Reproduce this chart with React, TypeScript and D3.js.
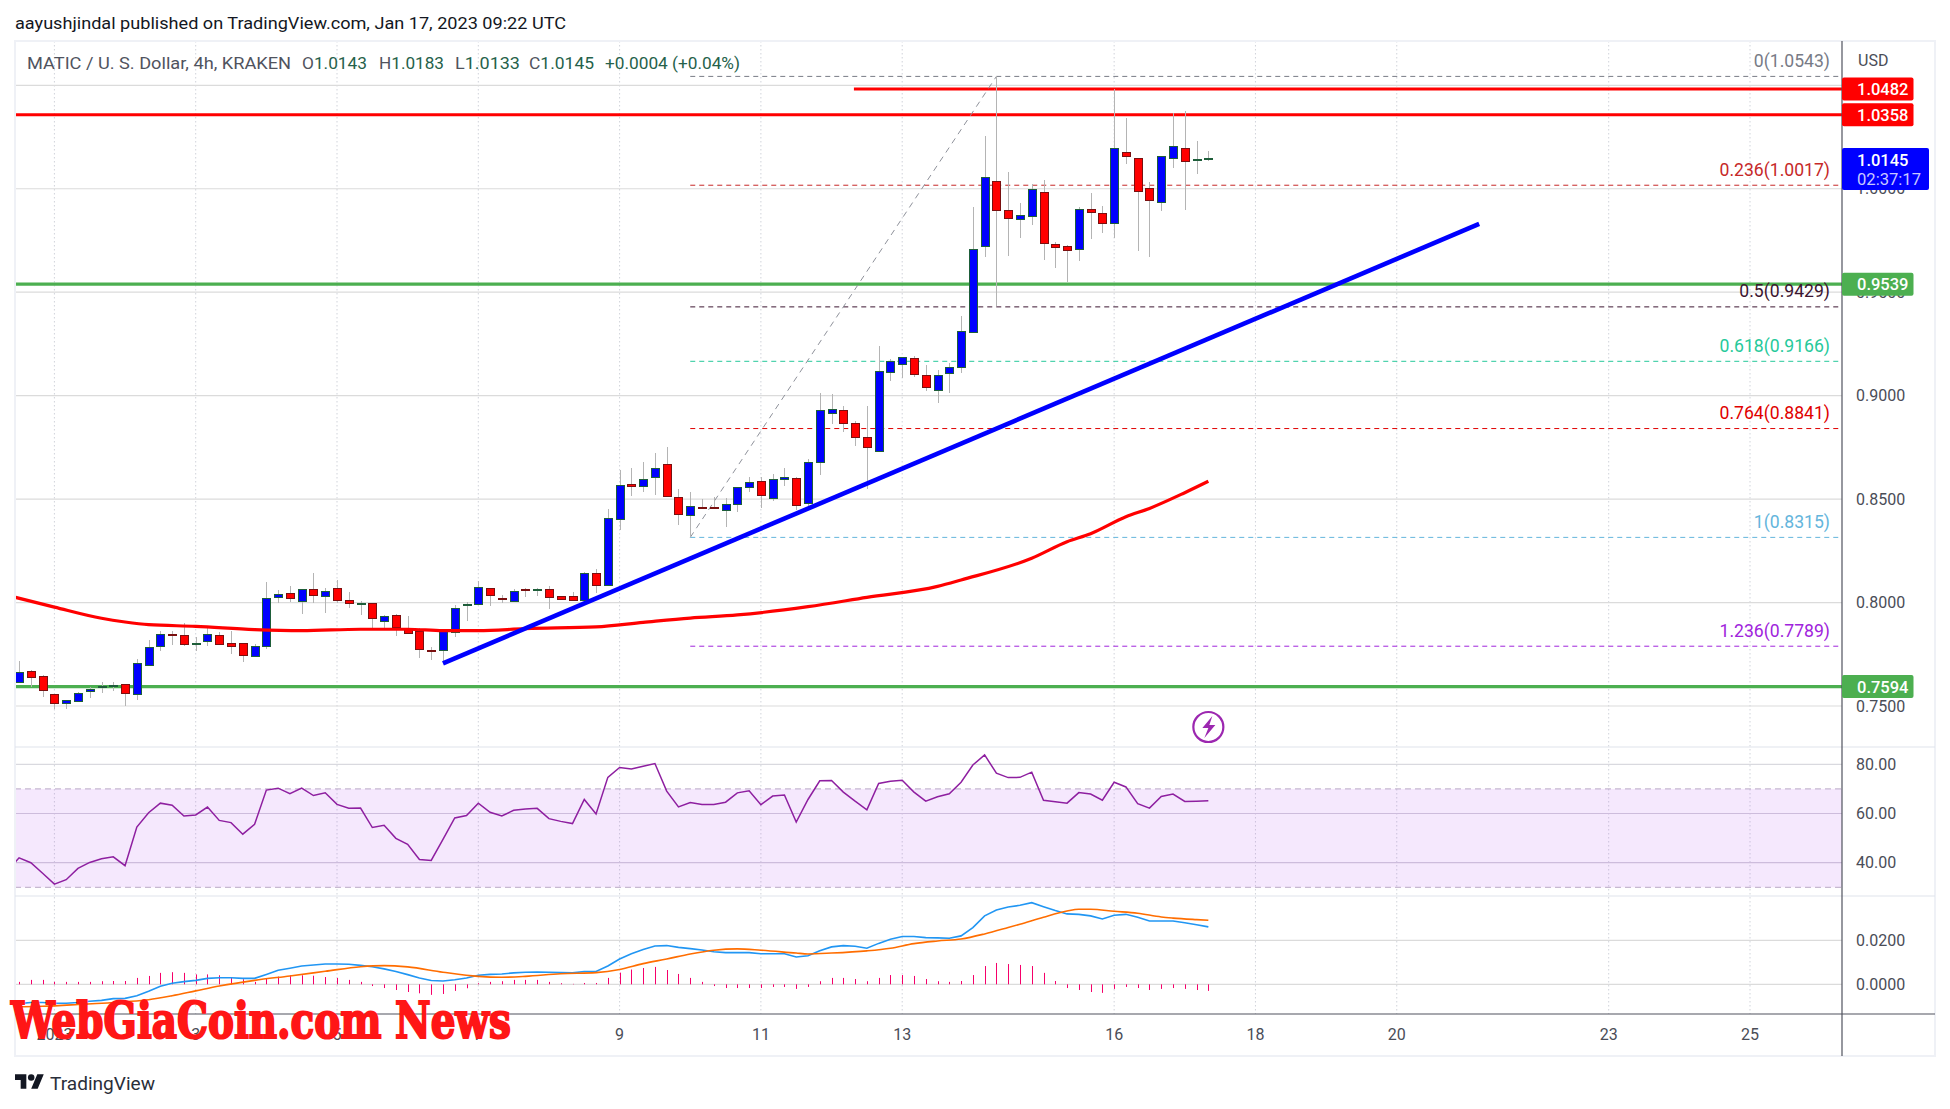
import React from "react";
import * as d3 from "d3";

const barStart = -3;
const opens = [.7613,.7668,.7643,.7556,.7511,.7521,.7569,.7589,.7593,.7605,.7556,.7695,.7788,.7846,.7842,.7801,.7811,.7842,.7803,.7803,.7738,.7788,.8024,.8045,.8006,.8064,.8028,.8069,.8011,.7995,.7996,.7909,.7938,.7875,.7861,.7769,.7769,.7854,.7985,.7991,.8069,.8020,.8006,.8064,.8062,.8064,.8027,.8027,.8011,.8141,.8083,.8401,.8571,.8560,.8604,.8668,.8508,.8420,.8460,.8460,.8444,.8473,.8557,.8586,.8502,.8594,.8600,.8478,.8678,.8913,.8929,.8866,.8798,.8731,.9111,.9150,.9180,.9098,.9024,.9108,.9135,.9306,.9720,1.0036,.9896,.9850,.9865,.9983,.9731,.9722,.9705,.9900,.9881,.9831,1.0176,1.0147,1.0002,.9934,1.0145,1.0195,1.0136,1.0143];
const highs = [.7717,.7674,.7650,.7556,.7529,.7569,.7593,.7614,.7614,.7606,.7726,.7817,.7861,.7861,.7900,.7832,.7875,.7856,.7862,.7803,.7798,.8099,.8061,.8080,.8064,.8143,.8069,.8107,.8051,.8007,.7996,.7940,.7943,.7935,.7875,.7784,.7867,.7987,.8001,.8104,.8069,.8035,.8064,.8070,.8069,.8080,.8028,.8051,.8146,.8161,.8452,.8641,.8650,.8679,.8721,.8750,.8549,.8534,.8500,.8512,.8504,.8560,.8607,.8608,.8621,.8649,.8605,.8695,.9011,.9008,.8950,.8877,.8950,.9240,.9175,.9185,.9192,.9148,.9124,.9156,.9385,.9912,1.0255,1.0543,1.0081,.9931,1.0023,1.0041,.9743,.9728,.9912,.9979,.9917,1.0482,1.0342,1.0147,1.0032,1.0157,1.0368,1.0376,1.0231,1.0183];
const lows = [.7610,.7593,.7545,.7487,.7484,.7521,.7540,.7564,.7571,.7502,.7531,.7695,.7767,.7796,.7792,.7767,.7792,.7793,.7753,.7714,.7738,.7774,.7996,.8004,.7946,.7996,.7951,.7996,.7975,.7941,.7875,.7875,.7840,.7850,.7734,.7724,.7711,.7835,.7912,.7991,.7985,.7996,.8006,.8027,.8033,.7970,.8014,.8009,.8001,.8048,.8083,.8349,.8515,.8536,.8520,.8512,.8375,.8315,.8454,.8450,.8367,.8439,.8536,.8457,.8492,.8565,.8447,.8450,.8618,.8865,.8826,.8757,.8547,.8731,.9071,.9085,.9092,.9024,.8963,.9014,.9111,.9306,.9672,.9433,.9675,.9762,.9825,.9656,.9618,.9549,.9651,.9759,.9788,.9762,1.0120,.9701,.9670,.9894,1.0102,.9897,1.0073,1.0133];
const closes = [.7663,.7637,.7576,.7511,.7527,.7561,.7582,.7595,.7600,.7561,.7706,.7784,.7846,.7840,.7798,.7803,.7846,.7798,.7787,.7743,.7788,.8020,.8040,.8020,.8064,.8033,.8054,.8011,.7996,.7996,.7924,.7933,.7879,.7850,.7774,.7767,.7861,.7972,.7991,.8074,.8033,.8019,.8054,.8057,.8064,.8024,.8014,.8009,.8141,.8082,.8407,.8566,.8560,.8595,.8649,.8512,.8425,.8465,.8454,.8458,.8475,.8557,.8581,.8517,.8595,.8605,.8468,.8678,.8929,.8934,.8865,.8798,.8749,.9117,.9166,.9185,.9101,.9039,.9098,.9137,.9311,.9707,1.0055,.9894,.9857,.9871,.9997,.9734,.9715,.9701,.9900,.9884,.9831,1.0194,1.0155,.9986,.9942,1.0157,1.0205,1.0131,1.0142,1.0145];

const maIndex = [-4,0,4,6,8,12,17,21,26,30,33,36,40,46,50,54,58,64,69,75,77,83,86,88,91,93,96,98];
const maValues = [.8035,.7978,.7924,.7906,.7893,.7885,.7869,.7864,.7871,.7871,.7864,.7864,.7874,.7882,.7904,.7925,.7940,.7980,.8025,.8078,.8109,.8214,.8294,.8333,.8415,.8455,.8531,.8586];

const rsiStart = -4;
const rsiValues = [36.6,42.0,40.0,35.7,31.3,33.1,37.7,40.1,41.6,42.4,38.8,54.5,60.3,64.2,63.4,59.0,59.4,62.6,57.2,56.3,51.6,55.6,69.5,70.3,68.1,70.3,67.3,68.4,63.7,62.1,62.2,54.3,55.2,49.9,47.5,41.3,40.9,49.5,58.2,59.2,64.2,60.5,59.0,61.3,61.8,62.1,57.9,56.8,55.9,65.7,59.8,74.7,78.7,78.1,79.2,80.3,69.1,62.7,64.5,63.7,63.7,64.6,68.4,69.2,63.6,67.1,67.5,56.5,65.7,73.3,73.4,68.7,65.0,61.5,72.2,73.1,73.5,68.7,65.0,66.8,68.0,72.7,79.7,83.8,76.4,74.6,74.7,76.8,65.4,64.8,64.2,68.5,67.9,65.4,72.7,70.8,64.0,62.2,66.9,67.9,64.9,65.0,65.2];

const macdStart = -4;
const macdValues = [-.0092,-.0088,-.0083,-.0083,-.0086,-.0086,-.0083,-.0077,-.0073,-.0065,-.0064,-.0052,-.0032,-.0009,.0005,.0012,.0018,.0027,.0030,.0030,.0027,.0027,.0045,.0064,.0073,.0083,.0088,.0092,.0092,.0091,.0086,.0080,.0070,.0058,.0044,.0029,.0017,.0015,.0021,.0029,.0041,.0045,.0047,.0052,.0055,.0056,.0055,.0053,.0052,.0058,.0058,.0083,.0115,.0139,.0158,.0174,.0176,.0168,.0162,.0156,.0148,.0144,.0144,.0144,.0139,.0139,.0139,.0124,.0130,.0152,.0170,.0176,.0173,.0164,.0186,.0205,.0217,.0217,.0212,.0211,.0209,.0220,.0258,.0311,.0338,.0351,.0359,.0371,.0353,.0335,.0320,.0318,.0311,.0297,.0314,.0318,.0305,.0288,.0288,.0288,.0280,.0271,.0261];
const signalIndex = [-4,-1,2,6,8,10,12,14,17,20,23,26,28,30,33,36,38,40,43,46,48,50,52,54,56,58,60,63,64,66,69,71,73,75,77,79,81,82,84,86,87,88,90,92,94,95,97,98];
const signalValues = [-.0103,-.0100,-.0092,-.0079,-.0070,-.0052,-.0030,-.0008,.0018,.0038,.0059,.0080,.0085,.0079,.0055,.0036,.0032,.0036,.0048,.0053,.0067,.0094,.0115,.0138,.0155,.0161,.0155,.0142,.0138,.0142,.0152,.0164,.0185,.0197,.0206,.0229,.0258,.0273,.0305,.0333,.0341,.0341,.0332,.0323,.0306,.0301,.0294,.0291];
const histValues = [.0011,.0020,.0020,.0011,.0011,.0011,.0011,.0014,.0015,.0015,.0029,.0038,.0052,.0055,.0052,.0045,.0045,.0041,.0032,.0023,.0011,.0026,.0035,.0041,.0041,.0039,.0033,.0029,.0020,.0011,-.0008,-.0017,-.0026,-.0035,-.0041,-.0048,-.0044,-.0030,-.0018,.0005,.0011,.0014,.0020,.0020,.0020,.0011,.0005,.0002,.0006,.0006,.0029,.0053,.0067,.0074,.0079,.0065,.0047,.0029,.0011,-.0008,-.0017,-.0017,-.0017,-.0017,-.0012,-.0012,-.0021,-.0012,.0014,.0029,.0029,.0024,.0014,.0029,.0042,.0042,.0038,.0024,.0014,.0011,.0015,.0042,.0083,.0097,.0092,.0088,.0083,.0052,.0015,-.0017,-.0026,-.0035,-.0039,-.0021,-.0012,-.0017,-.0026,-.0021,-.0017,-.0021,-.0026,-.0030];

const priceTicks = [1.05, 1.0, 0.95, 0.9, 0.85, 0.8, 0.75];
const rsiTicks = [80, 60, 40];
const macdTicks = [0.02, 0];
const timeIndex = [0, 12, 24, 36, 48, 60, 72, 90, 102, 114, 132, 144];
const timeLabels = ["2023", "3", "5", "7", "9", "11", "13", "16", "18", "20", "23", "25"];

const fibLevels = ["0", "0.236", "0.5", "0.618", "0.764", "1", "1.236"];
const fibPrices = [1.0543, 1.0017, 0.9429, 0.9166, 0.8841, 0.8315, 0.7789];
const fibColors = ["#787b86", "#c62828", "#3c1530", "#26c99a", "#e00000", "#64b5dc", "#a024dc"];
const fibStartIndex = 54;
const fibPeakIndex = 80;

const trendIndex = [33, 121];
const trendPrices = [0.7706, 0.983];

const legendLabels = ["O", "H", "L", "C"];
const legendValues = ["1.0143", "1.0183", "1.0133", "1.0145"];
const legendX = [302, 379, 455, 529];

const FRAME = { l: 15, t: 41, r: 1935, b: 1056 };
const AXIS_X = 1842;
const TIME_Y = 1014;
const SEP1 = 747;
const SEP2 = 896;
const FONT = "Roboto, 'Open Sans', sans-serif";
const AXIS_TEXT = "#4a4d57";
const GREEN_TEXT = "#25614a";

const x = d3.scaleLinear().domain([0, 144]).range([54.4, 1750]);
const y = d3.scaleLinear().domain([0.75, 1.05]).range([706, 85.3]);
const yRsi = d3.scaleLinear().domain([30, 80]).range([887.3, 764.3]);
const yMacd = d3.scaleLinear().domain([0, 0.02]).range([984.3, 940.3]);

const T = (p: any) => (
  <text fontFamily={FONT} fontSize={16} dominantBaseline="central" {...p}>{p.children}</text>
);

function PriceBox({ price, color }: { price: number; color: string }) {
  const yy = y(price);
  return (
    <g>
      <rect x={AXIS_X} y={yy - 11.5} width={71.5} height={23} rx={2} fill={color} />
      <T x={1857} y={yy + 0.5} fill="#fff" fontWeight={500} fontSize={16.5}>{price.toFixed(4)}</T>
    </g>
  );
}

export default function App() {
  const bars = opens.map((o, k) => ({ i: k + barStart, o, h: highs[k], l: lows[k], c: closes[k] }));
  const ma = d3.line<number>().x((_, k) => x(maIndex[k])).y((d) => y(d)).curve(d3.curveMonotoneX)(maValues)!;
  const rsi = d3.line<number>().x((_, k) => x(k + rsiStart)).y((d) => yRsi(d))(rsiValues)!;
  const macd = d3.line<number>().x((_, k) => x(k + macdStart)).y((d) => yMacd(d))(macdValues)!;
  const signal = d3.line<number>().x((_, k) => x(signalIndex[k])).y((d) => yMacd(d)).curve(d3.curveMonotoneX)(signalValues)!;
  const iconX = x(98);

  return (
    <svg width={1950} height={1109} style={{ position: "absolute", left: 0, top: 0, display: "block", background: "#fff" }}>
      <defs>
        <clipPath id="plot"><rect x={FRAME.l} y={FRAME.t} width={AXIS_X - FRAME.l} height={TIME_Y - FRAME.t} /></clipPath>
      </defs>

      <T x={15} y={23} fill="#131722" textLength={551} lengthAdjust="spacingAndGlyphs">
        aayushjindal published on TradingView.com, Jan 17, 2023 09:22 UTC
      </T>

      {timeIndex.map((t) => (
        <line key={t} x1={x(t)} x2={x(t)} y1={FRAME.t} y2={TIME_Y} stroke="#d0d3da" strokeWidth={1} strokeDasharray="1.5 2.5" />
      ))}

      {priceTicks.map((p) => (
        <line key={p} x1={FRAME.l} x2={AXIS_X} y1={y(p)} y2={y(p)} stroke="#dbdbdb" strokeWidth={1.2} />
      ))}
      {macdTicks.map((p) => (
        <line key={p} x1={FRAME.l} x2={AXIS_X} y1={yMacd(p)} y2={yMacd(p)} stroke="#dbdbdb" strokeWidth={1.2} />
      ))}

      {/* RSI band */}
      <rect x={FRAME.l} y={yRsi(70)} width={AXIS_X - FRAME.l} height={yRsi(30) - yRsi(70)} fill="#a32cf0" fillOpacity={0.11} />
      {rsiTicks.map((p) => (
        <line key={p} x1={FRAME.l} x2={AXIS_X} y1={yRsi(p)} y2={yRsi(p)} stroke={p === 80 ? "#d9d9df" : "#cdbcdc"} strokeWidth={1.2} />
      ))}
      {[70, 30].map((p) => (
        <line key={p} x1={FRAME.l} x2={AXIS_X} y1={yRsi(p)} y2={yRsi(p)} stroke="#b9a9c6" strokeWidth={1} strokeDasharray="6 4" />
      ))}

      <g clipPath="url(#plot)">
        {/* horizontal annotation lines */}
        <line x1={FRAME.l} x2={AXIS_X} y1={y(1.0358)} y2={y(1.0358)} stroke="#ff0000" strokeWidth={3} />
        <line x1={x(67.9)} x2={AXIS_X} y1={y(1.0482)} y2={y(1.0482)} stroke="#ff0000" strokeWidth={3} />
        <line x1={FRAME.l} x2={AXIS_X} y1={y(0.9539)} y2={y(0.9539)} stroke="#4caf50" strokeWidth={3.2} />
        <line x1={FRAME.l} x2={AXIS_X} y1={y(0.7594)} y2={y(0.7594)} stroke="#4caf50" strokeWidth={3.2} />

        {/* fibonacci */}
        {fibPrices.map((p, k) => (
          <line key={p} x1={x(fibStartIndex)} x2={1840} y1={y(p)} y2={y(p)} stroke={fibColors[k]} strokeWidth={1} strokeDasharray="5 4" />
        ))}
        <line x1={x(fibStartIndex)} y1={y(fibPrices[5])} x2={x(fibPeakIndex)} y2={y(fibPrices[0])} stroke="#8f929b" strokeWidth={1} strokeDasharray="6 5" />
        {fibPrices.map((p, k) => (
          <T key={p} x={1830} y={y(p) - 15.5} textAnchor="end" fill={fibColors[k]} fontSize={17.6}>
            {fibLevels[k]}({p.toFixed(4)})
          </T>
        ))}

        {/* candles */}
        {bars.map((b) => {
          const cx = Math.round(x(b.i));
          const up = b.c >= b.o;
          const top = y(Math.max(b.o, b.c));
          const bot = y(Math.min(b.o, b.c));
          return (
            <g key={b.i} shapeRendering="crispEdges">
              <line x1={cx + 0.5} x2={cx + 0.5} y1={y(b.h)} y2={y(b.l)} stroke="#b4b4b4" strokeWidth={1} />
              <rect
                x={cx - 3.5}
                y={top}
                width={8}
                height={Math.max(bot - top, 1)}
                fill={up ? "#0000ff" : "#ff0000"}
                stroke={up ? "#1e5e3a" : "#7a1010"}
                strokeWidth={1}
              />
            </g>
          );
        })}

        <path d={ma} fill="none" stroke="#ff0000" strokeWidth={3.2} />
        <line x1={x(trendIndex[0])} y1={y(trendPrices[0])} x2={x(trendIndex[1])} y2={y(trendPrices[1])} stroke="#0000ff" strokeWidth={4.6} />

        {/* lightning icon */}
        <circle cx={iconX} cy={727} r={15} fill="#fff" stroke="#9c27b0" strokeWidth={2.2} />
        <path
          d={`M${iconX + 4},${716} L${iconX - 6},${728} L${iconX},${728} L${iconX - 4},${738} L${iconX + 7},${725} L${iconX + 1},${725} Z`}
          fill="#9c27b0"
        />

        {/* RSI */}
        <path d={rsi} fill="none" stroke="#8e1fa0" strokeWidth={1.5} />

        {/* MACD */}
        {histValues.map((v, k) => (
          <line
            key={k}
            x1={Math.round(x(k + barStart)) + 0.5}
            x2={Math.round(x(k + barStart)) + 0.5}
            y1={yMacd(0)}
            y2={yMacd(v)}
            stroke="#f6006a"
            strokeWidth={1}
          />
        ))}
        <path d={macd} fill="none" stroke="#2196f3" strokeWidth={1.6} />
        <path d={signal} fill="none" stroke="#ff6d00" strokeWidth={1.6} />
      </g>

      {/* frame and axes */}
      <rect x={FRAME.l} y={FRAME.t} width={FRAME.r - FRAME.l} height={FRAME.b - FRAME.t} fill="none" stroke="#eff1f6" strokeWidth={2} />
      <line x1={FRAME.l} x2={FRAME.r} y1={SEP1} y2={SEP1} stroke="#e0e3eb" strokeWidth={1.2} />
      <line x1={FRAME.l} x2={FRAME.r} y1={SEP2} y2={SEP2} stroke="#e0e3eb" strokeWidth={1.2} />
      <line x1={AXIS_X} x2={AXIS_X} y1={FRAME.t} y2={FRAME.b} stroke="#50535e" strokeWidth={1.2} />
      <line x1={FRAME.l} x2={FRAME.r} y1={TIME_Y} y2={TIME_Y} stroke="#50535e" strokeWidth={1.2} />

      {/* legend */}
      <T x={27} y={63} fill="#50535e" textLength={264} lengthAdjust="spacingAndGlyphs">MATIC / U. S. Dollar, 4h, KRAKEN</T>
      {legendLabels.map((l, k) => (
        <T key={l} x={legendX[k]} y={63} fill="#50535e" textLength={65} lengthAdjust="spacingAndGlyphs">
          {l}<tspan fill={GREEN_TEXT}>{legendValues[k]}</tspan>
        </T>
      ))}
      <T x={605} y={63} fill={GREEN_TEXT} textLength={135} lengthAdjust="spacingAndGlyphs">+0.0004 (+0.04%)</T>

      {/* axis labels */}
      <T x={1858} y={60} fill={AXIS_TEXT}>USD</T>
      {priceTicks.map((p) => (
        <T key={p} x={1856} y={y(p)} fill={AXIS_TEXT}>{p.toFixed(4)}</T>
      ))}
      {rsiTicks.map((p) => (
        <T key={p} x={1856} y={yRsi(p)} fill={AXIS_TEXT}>{p.toFixed(2)}</T>
      ))}
      {macdTicks.map((p) => (
        <T key={p} x={1856} y={yMacd(p)} fill={AXIS_TEXT}>{p.toFixed(4)}</T>
      ))}
      {timeIndex.map((t, k) => (
        <T key={t} x={x(t)} y={1034} textAnchor="middle" fill={AXIS_TEXT}>{timeLabels[k]}</T>
      ))}

      <PriceBox price={1.0482} color="#ff0000" />
      <PriceBox price={1.0358} color="#ff0000" />
      <PriceBox price={0.9539} color="#4caf50" />
      <PriceBox price={0.7594} color="#4caf50" />
      <rect x={AXIS_X} y={148} width={87} height={42} rx={2} fill="#0000ff" />
      <T x={1857} y={160} fill="#fff" fontWeight={500} fontSize={16.5}>1.0145</T>
      <T x={1857} y={179} fill="#c8c8ff" textLength={64} lengthAdjust="spacingAndGlyphs">02:37:17</T>

      {/* watermark */}
      <text
        x={11}
        y={1038}
        fontFamily="'DejaVu Serif', serif"
        fontWeight={700}
        fontSize={50}
        fill="#ff1616"
        stroke="#ff1616"
        strokeWidth={2.2}
        textLength={500}
        lengthAdjust="spacingAndGlyphs"
      >
        WebGiaCoin.com News
      </text>

      {/* TradingView footer */}
      <g transform="translate(15,1071) scale(0.81)" fill="#131722">
        <path d="M14 22H7V11H0V4h14v18zM28 22h-8l7.5-18h8L28 22z" />
        <circle cx={20} cy={8} r={4} />
      </g>
      <T x={50} y={1083} fill="#2a2e39" fontSize={18} textLength={105} lengthAdjust="spacingAndGlyphs">TradingView</T>
    </svg>
  );
}
